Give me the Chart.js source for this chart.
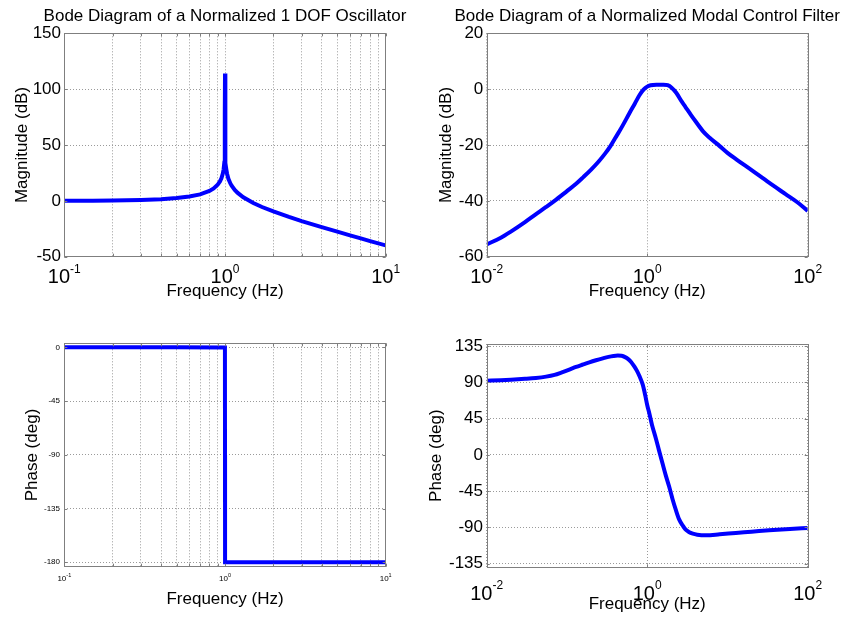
<!DOCTYPE html>
<html lang="en">
<head>
<meta charset="UTF-8">
<title>Bode Diagrams</title>
<script src="https://cdn.jsdelivr.net/npm/chart.js"></script>
<style>
  body { margin: 0; background: #fff; }
  #fig { position: relative; width: 845px; height: 618px; background: #fff; }
  .pane { position: absolute; }
</style>
</head>
<body>
<div id="fig">
  <div class="pane" style="left:0;top:0;width:422px;height:309px"><canvas id="oscMag"></canvas></div>
  <div class="pane" style="left:422px;top:0;width:423px;height:309px"><canvas id="filtMag"></canvas></div>
  <div class="pane" style="left:0;top:309px;width:422px;height:309px"><canvas id="oscPhase"></canvas></div>
  <div class="pane" style="left:422px;top:309px;width:423px;height:309px"><canvas id="filtPhase"></canvas></div>
</div>
<script>
// ---- data ----
// 1 DOF oscillator, magnitude (dB)
const oscMagFreq = [0.1, 0.15, 0.2, 0.3, 0.4, 0.5, 0.6, 0.7, 0.8, 0.85, 0.9, 0.93, 0.95, 0.97, 0.98, 0.99, 0.995, 0.999, 1.0,
                    1.001, 1.005, 1.01, 1.02, 1.03, 1.05, 1.08, 1.1, 1.15, 1.2, 1.3, 1.5, 1.7, 2, 2.5, 3, 4, 5, 6, 7, 8, 10];
const oscMag = [0.1, 0.2, 0.35, 0.8, 1.5, 2.5, 3.9, 5.8, 8.9, 11.1, 14.4, 17.4, 20.2, 24.6, 28, 34, 40, 77, 114,
                77, 40, 33.9, 27.9, 24.3, 19.8, 15.6, 13.6, 9.8, 7.1, 3.2, -1.9, -5.5, -9.5, -14.4, -18.1, -23.5, -27.6, -30.9, -33.6, -36, -39.9];
// 1 DOF oscillator, phase (deg)
const oscPhaseFreq = [0.1, 0.5, 0.999, 1.0, 1.001, 2, 10];
const oscPhase = [0, 0, -0.1, -90, -179.9, -180, -180];

// modal control filter, magnitude (dB)
const filtMagFreq = [0.01, 0.015, 0.02, 0.03, 0.04, 0.055, 0.07, 0.1, 0.13, 0.16, 0.2, 0.25, 0.3, 0.35, 0.4, 0.45, 0.5, 0.6,
                     0.7, 0.8, 0.9, 1.0, 1.1, 1.3, 1.6, 1.8, 2.0, 2.3, 2.7, 3.0, 3.5, 4.0, 5.0, 6.0, 8.0, 10, 13, 20, 33, 53, 75, 100];
const filtMag = [-55.6, -53.2, -51, -47.6, -45, -42.2, -40, -36.5, -33.9, -31.5, -28.8, -25.8, -23, -20.3, -17.5, -15.1, -12.8, -8.6,
                 -5.2, -2.2, -0.2, 0.9, 1.4, 1.6, 1.6, 1.4, 0.6, -1.3, -4.5, -6.4, -9.2, -11.5, -15.2, -17.4, -20.4, -22.8, -25.2, -29, -33.5, -37.6, -40.6, -43.6];
// modal control filter, phase (deg)
const filtPhaseFreq = [0.01, 0.015, 0.02, 0.03, 0.041, 0.055, 0.07, 0.085, 0.107, 0.13, 0.16, 0.19, 0.23, 0.28, 0.33, 0.38, 0.43,
                       0.48, 0.53, 0.58, 0.63, 0.69, 0.74, 0.8, 0.88, 0.95, 1.0, 1.06, 1.15, 1.28, 1.4, 1.55, 1.7, 1.88, 2.07,
                       2.28, 2.5, 2.76, 3.0, 3.3, 3.7, 4.2, 5.4, 8, 12.7, 20, 33, 60, 100];
const filtPhase = [92.2, 92.8, 93.4, 94.5, 95.6, 97.3, 99.5, 102.3, 106, 109.3, 112.4, 115, 117.6, 120, 121.8, 122.9, 123.4,
                   123.1, 121.5, 119, 115.5, 110, 105, 98, 87.3, 73, 62, 52, 37, 20.8, 6, -10.3, -25, -39.5, -55,
                   -68.6, -80, -87.3, -92.5, -95.6, -97.8, -99, -99.7, -98.5, -96.8, -95.3, -93.5, -91.8, -90.6];

// ticks
const oscFreqGrid = [0.1, 0.2, 0.3, 0.4, 0.5, 0.6, 0.7, 0.8, 0.9, 1, 2, 3, 4, 5, 6, 7, 8, 9, 10];
const oscDecades = [-1, 0, 1];
const filtFreqGrid = [0.01, 1, 100];
const filtDecades = [-2, 0, 2];
const oscMagTicks = [-50, 0, 50, 100, 150];
const oscPhaseTicks = [-180, -135, -90, -45, 0];
const filtMagTicks = [-60, -40, -20, 0, 20];
const filtPhaseTicks = [-135, -90, -45, 0, 45, 90, 135];

const FONT = '"Liberation Sans", Arial, Helvetica, sans-serif';
const BLUE = '#0000ff';
const FRAME = '#7f7f7f';
const GRID = '#9a9a9a';

// box round the axes plus small inward tick marks, like matlab
const framePlugin = {
  id: 'frame',
  afterDraw(chart) {
    const {ctx, chartArea: a, scales} = chart;
    ctx.save();
    ctx.strokeStyle = FRAME;
    ctx.lineWidth = 1;
    ctx.setLineDash([]);
    ctx.beginPath();
    scales.x.ticks.forEach(t => {
      const px = Math.round(scales.x.getPixelForValue(t.value)) + 0.5;
      ctx.moveTo(px, a.bottom); ctx.lineTo(px, a.bottom - 3);
      ctx.moveTo(px, a.top); ctx.lineTo(px, a.top + 3);
    });
    scales.y.ticks.forEach(t => {
      const py = Math.round(scales.y.getPixelForValue(t.value)) + 0.5;
      ctx.moveTo(a.left, py); ctx.lineTo(a.left + 3, py);
      ctx.moveTo(a.right, py); ctx.lineTo(a.right - 3, py);
    });
    ctx.stroke();
    ctx.strokeRect(Math.round(a.left) + 0.5, Math.round(a.top) + 0.5,
                   Math.round(a.right - a.left), Math.round(a.bottom - a.top));
    ctx.restore();
  }
};

// "10" with a raised exponent under each decade, and the title over the axes
const decadePlugin = {
  id: 'decades',
  afterDraw(chart, args, o) {
    const {ctx, chartArea: a, scales: {x}} = chart;
    ctx.save();
    ctx.fillStyle = '#000';
    ctx.textBaseline = 'alphabetic';
    ctx.textAlign = 'left';
    o.list.forEach(p => {
      const px = x.getPixelForValue(Math.pow(10, p));
      const e = String(p);
      ctx.font = o.base + 'px ' + FONT;
      const bw = ctx.measureText('10').width;
      ctx.font = o.exp + 'px ' + FONT;
      const ew = ctx.measureText(e).width;
      const left = px - (bw + ew) / 2;
      ctx.font = o.base + 'px ' + FONT;
      ctx.fillText('10', left, a.bottom + o.dy);
      ctx.font = o.exp + 'px ' + FONT;
      ctx.fillText(e, left + bw, a.bottom + o.dy - o.raise);
    });
    if (o.title) {
      ctx.font = '17px ' + FONT;
      ctx.textAlign = 'center';
      ctx.fillText(o.title, (a.left + a.right) / 2, 20.5);
    }
    ctx.restore();
  }
};

function bode(id, s) {
  return new Chart(document.getElementById(id), {
    type: 'line',
    data: {
      datasets: [{
        data: s.freq.map((f, i) => ({x: f, y: s.vals[i]})),
        borderColor: BLUE,
        borderWidth: 4,
        pointRadius: 0,
        fill: false,
        cubicInterpolationMode: s.smooth ? 'monotone' : 'default',
        tension: 0
      }]
    },
    options: {
      responsive: true,
      maintainAspectRatio: false,
      animation: false,
      events: [],
      layout: {padding: {left: 0, right: s.right, top: s.top, bottom: 0}},
      plugins: {
        legend: {display: false},
        tooltip: {enabled: false},
        title: {display: false},
        decades: {list: s.decades, base: s.xBase, exp: s.xExp, dy: s.xDy, raise: s.xRaise, title: s.title}
      },
      scales: {
        x: {
          type: 'logarithmic',
          min: s.xMin, max: s.xMax,
          afterBuildTicks: sc => { sc.ticks = s.grid.map(v => ({value: v})); },
          afterFit: sc => { sc.height = s.xH; },
          ticks: {display: false},
          grid: {color: GRID, lineWidth: 1, drawTicks: false},
          border: {display: false, dash: [1, 2]},
          title: {display: true, text: 'Frequency (Hz)', color: '#000',
                  font: {family: FONT, size: 17}, padding: {top: 0, bottom: s.xTitlePad}}
        },
        y: {
          type: 'linear',
          min: s.yMin, max: s.yMax,
          afterBuildTicks: sc => { sc.ticks = s.yTicks.map(v => ({value: v})); },
          afterFit: sc => { sc.width = s.yW; },
          ticks: {color: '#000', padding: s.yTickPad, font: {family: FONT, size: s.yFont}, autoSkip: false},
          grid: {color: GRID, lineWidth: 1, drawTicks: false},
          border: {display: false, dash: [1, 2]},
          title: {display: true, text: s.yLabel, color: '#000',
                  font: {family: FONT, size: 17}, padding: {top: s.yTitlePad, bottom: 0}}
        }
      }
    },
    plugins: [framePlugin, decadePlugin]
  });
}

bode('oscMag', {
  title: 'Bode Diagram of a Normalized 1 DOF Oscillator',
  freq: oscMagFreq, vals: oscMag, smooth: false,
  xMin: 0.1, xMax: 10, grid: oscFreqGrid, decades: oscDecades,
  yMin: -50, yMax: 150, yTicks: oscMagTicks, yLabel: 'Magnitude (dB)',
  top: 33.3, right: 36.3, yW: 64.3, xH: 52.3, yTickPad: 3.3, yFont: 17,
  yTitlePad: 12.3, xTitlePad: 7.1, xBase: 20, xExp: 12, xDy: 26.3, xRaise: 10.5
});

bode('filtMag', {
  title: 'Bode Diagram of a Normalized Modal Control Filter',
  freq: filtMagFreq, vals: filtMag, smooth: true,
  xMin: 0.01, xMax: 100, grid: filtFreqGrid, decades: filtDecades,
  yMin: -60, yMax: 20, yTicks: filtMagTicks, yLabel: 'Magnitude (dB)',
  top: 33.3, right: 37.3, yW: 64.7, xH: 52.3, yTickPad: 3.4, yFont: 17,
  yTitlePad: 14.1, xTitlePad: 7.1, xBase: 20, xExp: 12, xDy: 26.3, xRaise: 10.5
});

bode('oscPhase', {
  freq: oscPhaseFreq, vals: oscPhase, smooth: false,
  xMin: 0.1, xMax: 10, grid: oscFreqGrid, decades: oscDecades,
  yMin: -183.7, yMax: 3.4, yTicks: oscPhaseTicks, yLabel: 'Phase (deg)',
  top: 34.3, right: 36.3, yW: 64.3, xH: 51.3, yTickPad: 4.3, yFont: 8,
  yTitlePad: 22.3, xTitlePad: 8.8, xBase: 8, xExp: 5.5, xDy: 14, xRaise: 4
});

bode('filtPhase', {
  freq: filtPhaseFreq, vals: filtPhase, smooth: true,
  xMin: 0.01, xMax: 100, grid: filtFreqGrid, decades: filtDecades,
  yMin: -139.5, yMax: 137.8, yTicks: filtPhaseTicks, yLabel: 'Phase (deg)',
  top: 35, right: 37.3, yW: 64.7, xH: 50.7, yTickPad: 3.7, yFont: 17,
  yTitlePad: 3.8, xTitlePad: 3.1, xBase: 20, xExp: 12, xDy: 32.7, xRaise: 11
});
</script>
</body>
</html>
